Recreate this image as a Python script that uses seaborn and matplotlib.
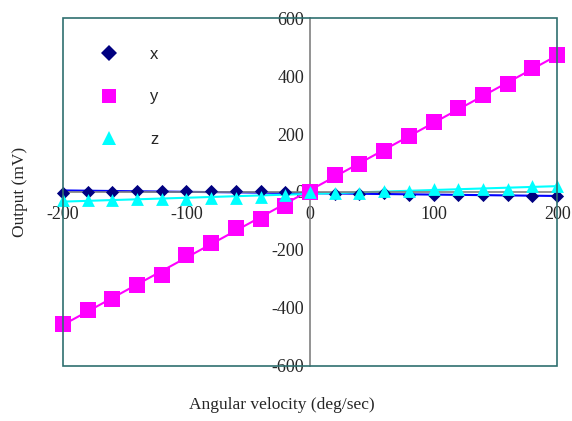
import numpy as np
import pandas as pd
import seaborn as sns
import matplotlib.pyplot as plt
from matplotlib.patches import Rectangle
from matplotlib.lines import Line2D

# angular velocity (deg/sec)
velocity = [-200, -180, -160, -140, -120, -100, -80, -60, -40, -20, 0,
            20, 40, 60, 80, 100, 120, 140, 160, 180, 200]

# sensor output (mV)
out_x = [-2, 0, 0, 4, 4, 4, 3, 3, 2, 0, 0,
         -8, -8, -5, -10, -12, -12, -12, -12, -14, -14]
out_y = [-454, -406, -369, -321, -286, -219, -176, -126, -92, -49, 0,
         59, 97, 143, 192, 240, 289, 336, 372, 428, 471]
out_z = [-28, -28, -26, -25, -25, -24, -22, -20, -16, -10, 0,
         -2, -2, 5, 3, 10, 10, 10, 10, 20, 22]

sns.set_style('white')
plt.rcParams['font.family'] = ['Liberation Serif', 'DejaVu Serif']
plt.rcParams['axes.unicode_minus'] = False

fig = plt.figure(figsize=(5.72, 4.21), dpi=100)
ax = fig.add_axes([0.110, 0.131, 0.864, 0.826])

# name, values, marker, marker colour, line colour, marker size
series = [
    ('x', out_x, 'D', '#000080', '#0000ff', 45),
    ('y', out_y, 's', '#ff00ff', '#ff00ff', 120),
    ('z', out_z, '^', '#00ffff', '#00ffff', 85),
]
handles = []
for name, vals, mk, c, lc, s in series:
    sns.regplot(x=velocity, y=vals, ax=ax, scatter=False, ci=None,
                color=lc, line_kws={'lw': 1.5})
    sns.scatterplot(x=velocity, y=vals, ax=ax, marker=mk, color=c, s=s,
                    linewidth=0, zorder=3, clip_on=False, legend=False)
    handles.append(Line2D([], [], marker=mk, color=c, linestyle='none',
                          markersize=10.5 if mk != 'D' else 8.5,
                          markeredgewidth=0, label=name))

ax.set_xlim(-200, 200)
ax.set_ylim(-600, 600)
ax.set_xticks([-200, -100, 0, 100, 200])
ax.set_yticks(np.arange(-600, 601, 200))

# axes through the origin
for side in ['left', 'bottom']:
    ax.spines[side].set_position(('data', 0))
    ax.spines[side].set_color('#808080')
    ax.spines[side].set_linewidth(1.2)
for side in ['top', 'right']:
    ax.spines[side].set_visible(False)
ax.add_patch(Rectangle((0, 0), 1, 1, transform=ax.transAxes, fill=False,
                       edgecolor='#2f6f6f', lw=1.2, clip_on=False, zorder=5))

ax.tick_params(axis='both', direction='out', length=4, color='#808080',
               labelsize=13, width=1)
ax.tick_params(axis='y', pad=0)
ax.tick_params(axis='x', pad=6)

ax.set_xlabel('Angular velocity (deg/sec)', fontsize=12.5)
ax.set_ylabel('Output (mV)', fontsize=12.5)
ax.xaxis.set_label_coords(0.443, -0.089)
ax.yaxis.set_label_coords(-0.071, 0.5)

ax.legend(handles=handles, loc='upper left', bbox_to_anchor=(0.077, 0.917),
          frameon=False, prop={'family': 'Liberation Sans', 'size': 12},
          labelspacing=1.65, handlelength=1, handletextpad=1.95, borderpad=0,
          borderaxespad=0)

plt.savefig('out.png', dpi=100)
